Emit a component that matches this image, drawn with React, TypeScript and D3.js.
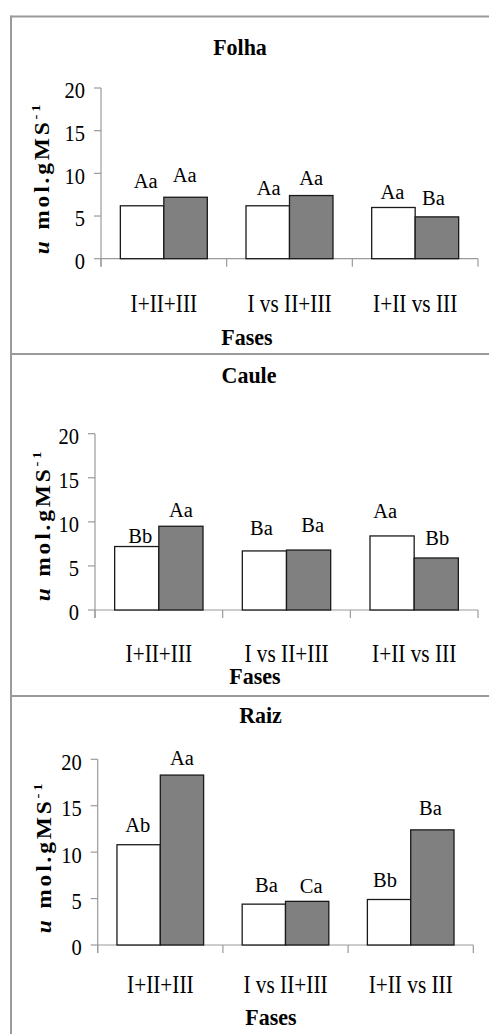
import React from "react";
import * as d3 from "d3";

// ---- data ----
const categories = ["I+II+III", "I vs II+III", "I+II vs III"];
const yTicks = [0, 5, 10, 15, 20];
const yDomainMax = 20;
const panelTitles = ["Folha", "Caule", "Raiz"];
const xAxisTitle = "Fases";

const folhaWhite = [6.2, 6.2, 6.0];
const folhaGray = [7.2, 7.4, 4.9];
const cauleWhite = [7.2, 6.7, 8.4];
const cauleGray = [9.5, 6.8, 5.9];
const raizWhite = [10.8, 4.4, 4.9];
const raizGray = [18.3, 4.7, 12.4];

const folhaWhiteLetters = ["Aa", "Aa", "Aa"];
const folhaGrayLetters = ["Aa", "Aa", "Ba"];
const cauleWhiteLetters = ["Bb", "Ba", "Aa"];
const cauleGrayLetters = ["Aa", "Ba", "Bb"];
const raizWhiteLetters = ["Ab", "Ba", "Bb"];
const raizGrayLetters = ["Aa", "Ca", "Ba"];

// ---- layout ----
const W = 489;
const H = 1034;
const FONT = "'Liberation Serif', 'Times New Roman', Times, serif";
const FRAME = "#9a9a9a";
const AXIS = "#9a9a9a";
const GRAY_FILL = "#808080";

type Panel = {
  title: string;
  white: number[];
  gray: number[];
  whiteLetters: string[];
  grayLetters: string[];
  x0: number;
  x1: number;
  yTop: number;
  yZero: number;
  titleX: number;
  titleY: number;
  catY: number;
  fasesX: number;
  fasesY: number;
  ylabX: number;
  ylabY: number;
  whiteNudge: [number, number][];
  grayNudge: [number, number][];
};

const panels: Panel[] = [
  {
    title: panelTitles[0],
    white: folhaWhite,
    gray: folhaGray,
    whiteLetters: folhaWhiteLetters,
    grayLetters: folhaGrayLetters,
    x0: 101, x1: 478, yTop: 88, yZero: 258.7,
    titleX: 240, titleY: 55, catY: 312, fasesX: 247, fasesY: 345,
    ylabX: 42, ylabY: 178,
    whiteNudge: [[3.5, 18], [1, 11], [-1, 8]],
    grayNudge: [[-1, 15], [0, 11], [-3.5, 12]],
  },
  {
    title: panelTitles[1],
    white: cauleWhite,
    gray: cauleGray,
    whiteLetters: cauleWhiteLetters,
    grayLetters: cauleGrayLetters,
    x0: 95, x1: 478, yTop: 433.7, yZero: 610,
    titleX: 249, titleY: 383, catY: 661.5, fasesX: 255, fasesY: 684,
    ylabX: 43, ylabY: 525,
    whiteNudge: [[3.5, 4], [-3, 16], [-7, 18]],
    grayNudge: [[0, 9], [4, 18], [1, 13]],
  },
  {
    title: panelTitles[2],
    white: raizWhite,
    gray: raizGray,
    whiteLetters: raizWhiteLetters,
    grayLetters: raizGrayLetters,
    x0: 97.7, x1: 473.3, yTop: 759.3, yZero: 945,
    titleX: 260.5, titleY: 723, catY: 993, fasesX: 271, fasesY: 1025,
    ylabX: 44, ylabY: 857,
    whiteNudge: [[-1, 13], [2.5, 12.6], [-4, 12.6]],
    grayNudge: [[0, 10], [4, 8.4], [-2, 15]],
  },
];

const dividers = [16.5, 354, 696];

// Text drawn at (x, y) with an optional vertical stretch.
function T({
  x,
  y,
  sy = 1,
  size,
  bold = false,
  anchor = "middle",
  dy,
  children,
}: {
  x: number;
  y: number;
  sy?: number;
  size: number;
  bold?: boolean;
  anchor?: string;
  dy?: string;
  children: React.ReactNode;
}) {
  return (
    <text
      transform={`translate(${x},${y}) scale(1,${sy})`}
      dy={dy}
      textAnchor={anchor}
      fontFamily={FONT}
      fontWeight={bold ? "bold" : "normal"}
      fontSize={size}
      fill="#000"
    >
      {children}
    </text>
  );
}

function ChartPanel({ p }: { p: Panel }) {
  const x = d3.scaleBand<string>().domain(categories).range([p.x0, p.x1]).padding(0);
  const inner = d3
    .scaleBand<string>()
    .domain(["white", "gray"])
    .range([0, x.bandwidth()])
    .paddingInner(0)
    .paddingOuter(0.445);
  const y = d3.scaleLinear().domain([0, yDomainMax]).range([p.yZero, p.yTop]);
  const bw = inner.bandwidth();

  const series = [
    { key: "white", values: p.white, letters: p.whiteLetters, nudge: p.whiteNudge, fill: "#ffffff" },
    { key: "gray", values: p.gray, letters: p.grayLetters, nudge: p.grayNudge, fill: GRAY_FILL },
  ];

  const tickEdges = [...categories.map((c) => x(c) as number), p.x1];

  return (
    <g>
      <T x={p.titleX} y={p.titleY} size={22} bold sy={1.08}>
        {p.title}
      </T>

      {/* value axis */}
      <line x1={p.x0} x2={p.x0} y1={y(yDomainMax)} y2={p.yZero + 8} stroke={AXIS} strokeWidth={1.2} />
      {yTicks.map((t) => (
        <g key={t}>
          <line x1={p.x0 - 7} x2={p.x0} y1={y(t)} y2={y(t)} stroke={AXIS} strokeWidth={1.2} />
          <T x={p.x0 - 16} y={y(t) + 2} size={20.5} sy={1.17} anchor="end" dy="0.35em">
            {t}
          </T>
        </g>
      ))}

      {/* category axis */}
      <line x1={p.x0} x2={p.x1} y1={p.yZero} y2={p.yZero} stroke={AXIS} strokeWidth={1.2} />
      {tickEdges.map((tx, i) => (
        <line key={i} x1={tx} x2={tx} y1={p.yZero} y2={p.yZero + 8} stroke={AXIS} strokeWidth={1.2} />
      ))}

      {/* bars */}
      {series.map((s) =>
        s.values.map((v, i) => {
          const bx = (x(categories[i]) as number) + (inner(s.key) as number);
          return (
            <rect
              key={s.key + i}
              x={bx}
              y={y(v)}
              width={bw}
              height={p.yZero - y(v)}
              fill={s.fill}
              stroke="#1a1a1a"
              strokeWidth={1.3}
            />
          );
        })
      )}

      {/* significance letters */}
      {series.map((s) =>
        s.values.map((v, i) => {
          const cx = (x(categories[i]) as number) + (inner(s.key) as number) + bw / 2;
          return (
            <T key={"l" + s.key + i} x={cx + s.nudge[i][0]} y={y(v) - s.nudge[i][1]} size={20.5} sy={1.03}>
              {s.letters[i]}
            </T>
          );
        })
      )}

      {/* category labels */}
      {categories.map((c) => (
        <T key={c} x={(x(c) as number) + x.bandwidth() / 2} y={p.catY} size={21.3} sy={1.15}>
          {c}
        </T>
      ))}

      <T x={p.fasesX} y={p.fasesY} size={22} bold sy={1.08}>
        {xAxisTitle}
      </T>

      {/* value axis title */}
      <text
        transform={`translate(${p.ylabX},${p.ylabY}) rotate(-90) scale(1.12,1)`}
        dy="0.35em"
        textAnchor="middle"
        fontFamily={FONT}
        fontWeight="bold"
        fontSize={21}
        letterSpacing={2.5}
      >
        <tspan fontStyle="italic">u</tspan>
        <tspan> mol.gMS</tspan>
        <tspan fontSize={13} dy={-9}>-1</tspan>
      </text>
    </g>
  );
}

export default function App() {
  return (
    <svg
      width={W}
      height={H}
      viewBox={`0 0 ${W} ${H}`}
      style={{ position: "absolute", left: 0, top: 0, background: "#ffffff" }}
    >
      <rect x={0} y={0} width={W} height={H} fill="#ffffff" />
      {dividers.map((d) => (
        <line key={d} x1={11} x2={W} y1={d} y2={d} stroke={FRAME} strokeWidth={2} />
      ))}
      <line x1={11} x2={11} y1={15.5} y2={H} stroke={FRAME} strokeWidth={2} />
      {panels.map((p) => (
        <ChartPanel key={p.title} p={p} />
      ))}
    </svg>
  );
}
